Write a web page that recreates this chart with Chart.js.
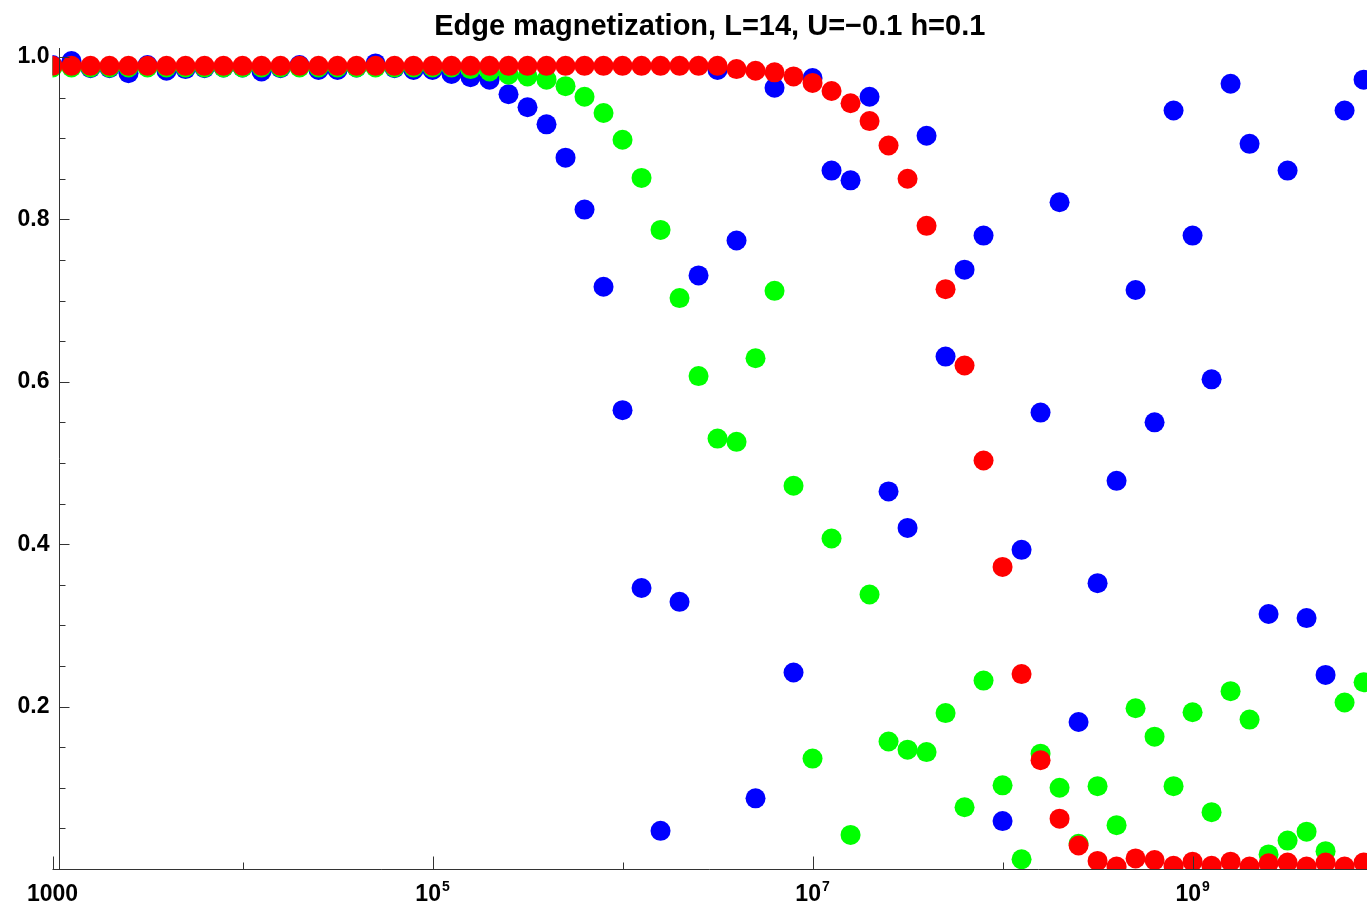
<!DOCTYPE html>
<html>
<head>
<meta charset="utf-8">
<script src="https://cdn.jsdelivr.net/npm/chart.js@4.4.1/dist/chart.umd.min.js"></script>
<style>
  html, body { margin: 0; padding: 0; background: #fff; }
  #wrap { width: 1367px; height: 902px; }
</style>
</head>
<body>
<div id="wrap"><canvas id="myChart" width="1367" height="902"></canvas></div>
<script>
// log10 of the time axis (one point every 0.1 decade)
const logTimes = [
    3.0, 3.1, 3.2, 3.3, 3.4, 3.5, 3.6, 3.7, 3.8, 3.9,
    4.0, 4.1, 4.2, 4.3, 4.4, 4.5, 4.6, 4.7, 4.8, 4.9,
    5.0, 5.1, 5.2, 5.3, 5.4, 5.5, 5.6, 5.7, 5.8, 5.9,
    6.0, 6.1, 6.2, 6.3, 6.4, 6.5, 6.6, 6.7, 6.8, 6.9,
    7.0, 7.1, 7.2, 7.3, 7.4, 7.5, 7.6, 7.7, 7.8, 7.9,
    8.0, 8.1, 8.2, 8.3, 8.4, 8.5, 8.6, 8.7, 8.8, 8.9,
    9.0, 9.1, 9.2, 9.3, 9.4, 9.5, 9.6, 9.7, 9.8, 9.9
];

const blueVals = [
    0.990, 0.995, 0.986, 0.986, 0.980, 0.990, 0.983, 0.985, 0.986, 0.987,
    0.987, 0.982, 0.986, 0.990, 0.984, 0.984, 0.987, 0.992, 0.986, 0.984,
    0.984, 0.979, 0.975, 0.972, 0.954, 0.938, 0.917, 0.876, 0.812, 0.717,
    0.565, 0.346, 0.047, 0.329, 0.731, 0.984, 0.774, 0.087, 0.962, 0.242,
    0.974, 0.860, 0.848, 0.951, 0.465, 0.420, 0.903, 0.631, 0.738, 0.780,
    0.059, 0.393, 0.562, 0.821, 0.181, 0.352, 0.478, 0.713, 0.550, 0.934,
    0.780, 0.603, 0.967, 0.893, 0.314, 0.860, 0.309, 0.239, 0.934, 0.972
];

const greenVals = [
    0.987, 0.987, 0.987, 0.987, 0.987, 0.987, 0.987, 0.987, 0.987, 0.987,
    0.987, 0.987, 0.987, 0.987, 0.987, 0.987, 0.987, 0.987, 0.987, 0.987,
    0.987, 0.987, 0.985, 0.982, 0.978, 0.976, 0.972, 0.964, 0.951, 0.931,
    0.898, 0.851, 0.787, 0.703, 0.607, 0.530, 0.526, 0.629, 0.712, 0.472,
    0.136, 0.407, 0.042, 0.338, 0.157, 0.147, 0.144, 0.192, 0.076, 0.232,
    0.103, 0.012, 0.142, 0.100, 0.031, 0.102, 0.054, 0.198, 0.163, 0.102,
    0.193, 0.070, 0.219, 0.184, 0.018, 0.035, 0.046, 0.022, 0.205, 0.230
];

const redVals = [
    0.989, 0.989, 0.989, 0.989, 0.989, 0.989, 0.989, 0.989, 0.989, 0.989,
    0.989, 0.989, 0.989, 0.989, 0.989, 0.989, 0.989, 0.989, 0.989, 0.989,
    0.989, 0.989, 0.989, 0.989, 0.989, 0.989, 0.989, 0.989, 0.989, 0.989,
    0.989, 0.989, 0.989, 0.989, 0.989, 0.989, 0.985, 0.983, 0.981, 0.976,
    0.968, 0.958, 0.943, 0.921, 0.891, 0.850, 0.792, 0.714, 0.620, 0.503,
    0.372, 0.240, 0.134, 0.062, 0.029, 0.010, 0.003, 0.013, 0.011, 0.004,
    0.009, 0.004, 0.009, 0.003, 0.007, 0.008, 0.003, 0.008, 0.003, 0.008
];

// x tick labels: base text and exponent (empty exponent = plain label)
const xMajorTicks = [1e3, 1e5, 1e7, 1e9];
const xTickBase = ['1000', '10', '10', '10'];
const xTickExp = ['', '5', '7', '9'];
const xMinorTicks = [1e4, 1e6, 1e8];
const yMajorTicks = [0.2, 0.4, 0.6, 0.8, 1.0];
const yMinorTicks = [0.05, 0.1, 0.15, 0.25, 0.3, 0.35, 0.45, 0.5, 0.55,
                     0.65, 0.7, 0.75, 0.85, 0.9, 0.95];

const xMin = 1e3;
const xMax = Math.pow(10, 9.918);
const yMax = 1.011;
const yAxisAt = 1080; // where the vertical axis crosses the time axis

const toPoints = vals => vals.map((v, i) => ({ x: Math.pow(10, logTimes[i]), y: v }));

const FONT = "'Liberation Sans', Arial, sans-serif";

// Mathematica-style axes: lines with inward ticks, x labels with superscripts
const axesPlugin = {
    id: 'mmaAxes',
    afterDraw(chart) {
        const { ctx, chartArea: a, scales: { x, y } } = chart;
        const yb = Math.round(y.getPixelForValue(0)) + 0.5;
        const ax = Math.round(x.getPixelForValue(yAxisAt)) + 0.5;
        ctx.save();
        ctx.strokeStyle = '#333';
        ctx.lineWidth = 1;
        ctx.beginPath();
        ctx.moveTo(a.left, yb); ctx.lineTo(a.right, yb);
        ctx.moveTo(ax, a.top); ctx.lineTo(ax, yb);
        xMajorTicks.forEach(v => {
            const px = Math.round(x.getPixelForValue(v)) + 0.5;
            ctx.moveTo(px, yb); ctx.lineTo(px, yb - 13);
        });
        xMinorTicks.forEach(v => {
            const px = Math.round(x.getPixelForValue(v)) + 0.5;
            ctx.moveTo(px, yb); ctx.lineTo(px, yb - 7);
        });
        yMajorTicks.forEach(v => {
            const py = Math.round(y.getPixelForValue(v)) + 0.5;
            ctx.moveTo(ax, py); ctx.lineTo(ax + 10, py);
        });
        yMinorTicks.forEach(v => {
            const py = Math.round(y.getPixelForValue(v)) + 0.5;
            ctx.moveTo(ax, py); ctx.lineTo(ax + 6, py);
        });
        ctx.stroke();

        ctx.fillStyle = '#000';
        ctx.textBaseline = 'alphabetic';
        ctx.textAlign = 'left';
        const baseFont = 'bold 23px ' + FONT;
        const expFont = 'bold 14px ' + FONT;
        xMajorTicks.forEach((v, i) => {
            const px = x.getPixelForValue(v);
            ctx.font = baseFont;
            const wb = ctx.measureText(xTickBase[i]).width;
            ctx.font = expFont;
            const we = xTickExp[i] ? ctx.measureText(xTickExp[i]).width + 1 : 0;
            const left = px - (wb + we) / 2;
            ctx.font = baseFont;
            ctx.fillText(xTickBase[i], left, yb + 31);
            if (xTickExp[i]) {
                ctx.font = expFont;
                ctx.fillText(xTickExp[i], left + wb + 1, yb + 21);
            }
        });
        ctx.restore();
    }
};

const data = {
    datasets: [
        { label: 'red', data: toPoints(redVals), backgroundColor: '#ff0000', order: 0 },
        { label: 'green', data: toPoints(greenVals), backgroundColor: '#00ff00', order: 1 },
        { label: 'blue', data: toPoints(blueVals), backgroundColor: '#0000ff', order: 2 }
    ]
};

const config = {
    type: 'scatter',
    data: data,
    options: {
        responsive: false,
        animation: false,
        devicePixelRatio: 1,
        layout: { padding: 0, autoPadding: false },
        elements: {
            point: { radius: 10, hoverRadius: 10, borderWidth: 0 }
        },
        datasets: { scatter: { clip: 0 } },
        scales: {
            x: {
                type: 'logarithmic',
                min: xMin,
                max: xMax,
                grid: { display: false, drawTicks: false },
                border: { display: false },
                afterBuildTicks: scale => { scale.ticks = xMajorTicks.map(v => ({ value: v })); },
                afterFit: scale => { scale.height = 33; },
                ticks: { display: false }
            },
            y: {
                min: 0,
                max: yMax,
                grid: { display: false, drawTicks: false },
                border: { display: false },
                afterBuildTicks: scale => { scale.ticks = yMajorTicks.map(v => ({ value: v })); },
                afterFit: scale => { scale.width = 52.5; },
                ticks: {
                    padding: 3,
                    color: '#000',
                    font: { family: FONT, size: 23, weight: 'bold' },
                    callback: v => v.toFixed(1)
                }
            }
        },
        plugins: {
            legend: { display: false },
            tooltip: { enabled: false },
            title: {
                display: true,
                fullSize: false,
                text: 'Edge magnetization, L=14, U=\u22120.1 h=0.1',
                color: '#000',
                font: { family: FONT, size: 29, weight: 'bold' },
                padding: { top: 10, bottom: 3.2 }
            }
        }
    },
    plugins: [axesPlugin]
};

var myChart = new Chart(
    document.getElementById('myChart'),
    config
);
</script>
</body>
</html>
